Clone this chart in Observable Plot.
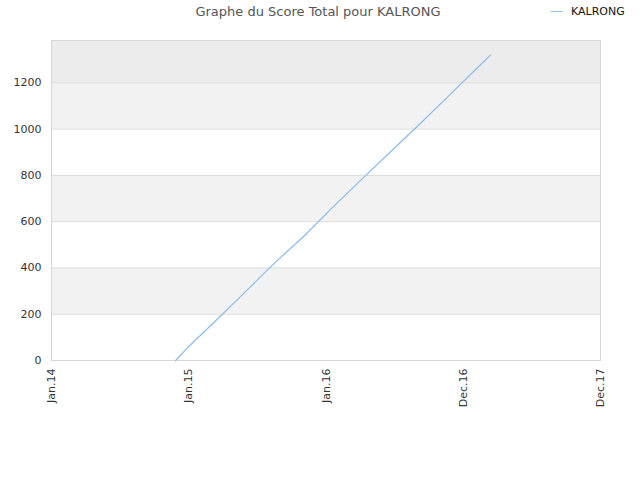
<!DOCTYPE html>
<html>
<head>
<meta charset="utf-8">
<script src="https://cdn.jsdelivr.net/npm/d3@7"></script>
<script src="https://cdn.jsdelivr.net/npm/@observablehq/plot@0.6"></script>
<style>
  body { margin: 0; background: #fff; font-family: "DejaVu Sans", sans-serif; }
  #wrap { position: relative; width: 640px; height: 480px; }
  #title { position: absolute; left: 0; width: 636px; top: 4px; text-align: center; font-size: 13px; color: #555; }
  #legend { position: absolute; left: 551px; top: 5px; font-size: 11px; color: #111; display: flex; align-items: center; }
  #legend span.sw { display: inline-block; width: 12px; height: 0; border-top: 1px solid #8fc0f0; margin-right: 8px; }
  #chart { position: absolute; left: 0; top: 28px; }
</style>
</head>
<body>
<div id="wrap">
  <div id="title">Graphe du Score Total pour KALRONG</div>
  <div id="legend"><span class="sw"></span>KALRONG</div>
  <div id="chart"></div>
</div>
<script>
const seriesName = "KALRONG";
const dates = ["2014-11-27","2015-01-03","2015-03-22","2015-06-03","2015-08-19","2015-11-03","2016-01-20","2016-04-04","2016-06-20","2016-09-05","2016-11-19","2017-02-04","2017-03-14"];
const scores = [0, 64, 185, 301, 424, 537, 664, 782, 901, 1020, 1138, 1261, 1321];
const tickDates = ["2014-01-01","2015-01-01","2016-01-01","2016-12-31","2017-12-31"];
const tickLabels = ["Jan.14","Jan.15","Jan.16","Dec.16","Dec.17"];
const yTicks = [0, 200, 400, 600, 800, 1000, 1200];
const bandLo = [200, 600, 1000, 1200];
const bandHi = [400, 800, 1200, 1383];
const bandFill = ["#f2f2f2", "#f2f2f2", "#f2f2f2", "#ececec"];

const data = dates.map((d, i) => ({date: new Date(d + "T00:00:00Z"), score: scores[i]}));
const ticks = tickDates.map(d => new Date(d + "T00:00:00Z"));
const bands = bandLo.map((lo, i) => ({lo, hi: bandHi[i], fill: bandFill[i]}));
const labelFor = d => tickLabels[ticks.findIndex(t => +t === +d)];

const chart = Plot.plot({
  width: 640,
  height: 452,
  marginTop: 12,
  marginBottom: 120,
  marginLeft: 51,
  marginRight: 40,
  style: {fontFamily: "DejaVu Sans, sans-serif", fontSize: "11px", color: "#333", background: "transparent"},
  x: {type: "utc", domain: [ticks[0], ticks[ticks.length - 1]]},
  y: {domain: [0, 1383]},
  marks: [
    Plot.rect(bands, {y1: "lo", y2: "hi", fill: "fill"}),
    Plot.ruleY(yTicks.slice(1), {stroke: "#dcdcdc", strokeWidth: 1}),
    Plot.frame({stroke: "#d6d6d6"}),
    Plot.axisY({ticks: yTicks, tickFormat: d => String(d), tickSize: 0, tickPadding: 10, label: null, fill: "#333"}),
    Plot.axisX({ticks: ticks, tickFormat: labelFor, tickSize: 0, tickRotate: -90, tickPadding: 8, label: null, fill: "#333"}),
    Plot.line(data, {x: "date", y: "score", stroke: "#88bbee", strokeWidth: 1.2})
  ]
});
document.getElementById("chart").appendChild(chart);
</script>
</body>
</html>
